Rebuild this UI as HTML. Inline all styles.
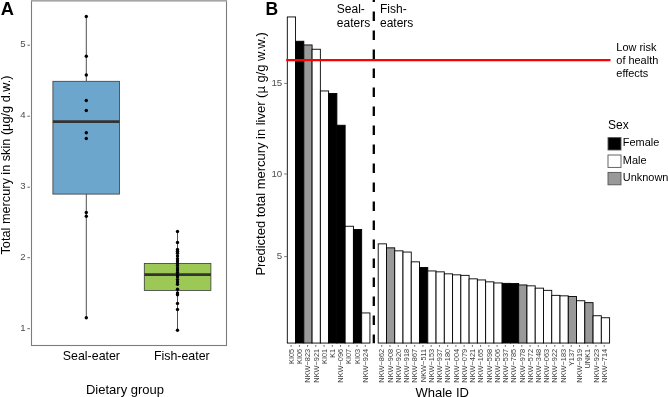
<!DOCTYPE html>
<html><head><meta charset="utf-8"><title>Mercury in killer whales</title>
<style>html,body{margin:0;padding:0;background:#fff;}body{width:668px;height:397px;overflow:hidden;}svg{display:block;font-family:"Liberation Sans",sans-serif;}</style>
</head><body>
<svg style="will-change:transform" width="668" height="397" viewBox="0 0 668 397">
<rect x="0" y="0" width="668" height="397" fill="#ffffff"/>
<g id="panelA">
<text x="0.7" y="14.6" font-size="18.3" font-weight="bold" fill="#000">A</text>
<rect x="31.5" y="0.6" width="195" height="344.9" fill="none" stroke="#7c7c7c" stroke-width="1.1"/>
<line x1="31" x2="227" y1="0.75" y2="0.75" stroke="#a6a6a6" stroke-width="1.5"/>
<line x1="27.4" x2="29.9" y1="45.2" y2="45.2" stroke="#555" stroke-width="0.9"/>
<text x="25.5" y="47.2" font-size="9.6" text-anchor="end" fill="#4d4d4d">5</text>
<line x1="27.4" x2="29.9" y1="116.2" y2="116.2" stroke="#555" stroke-width="0.9"/>
<text x="25.5" y="118.2" font-size="9.6" text-anchor="end" fill="#4d4d4d">4</text>
<line x1="27.4" x2="29.9" y1="187.2" y2="187.2" stroke="#555" stroke-width="0.9"/>
<text x="25.5" y="189.2" font-size="9.6" text-anchor="end" fill="#4d4d4d">3</text>
<line x1="27.4" x2="29.9" y1="257.7" y2="257.7" stroke="#555" stroke-width="0.9"/>
<text x="25.5" y="259.7" font-size="9.6" text-anchor="end" fill="#4d4d4d">2</text>
<line x1="27.4" x2="29.9" y1="328.7" y2="328.7" stroke="#555" stroke-width="0.9"/>
<text x="25.5" y="330.7" font-size="9.6" text-anchor="end" fill="#4d4d4d">1</text>
<text transform="translate(9.8,254.5) rotate(-90)" font-size="13" fill="#000" textLength="179" lengthAdjust="spacingAndGlyphs">Total mercury in skin (µg/g d.w.)</text>
<line x1="86.3" x2="86.3" y1="16.5" y2="81.3" stroke="#222" stroke-width="0.8"/>
<line x1="86.3" x2="86.3" y1="194" y2="317.8" stroke="#222" stroke-width="0.8"/>
<rect x="52.9" y="81.3" width="66.6" height="112.8" fill="#6ca6cd" stroke="#3a3a3a" stroke-width="0.8"/>
<line x1="52.9" x2="119.5" y1="121.6" y2="121.6" stroke="#333" stroke-width="2.7"/>
<circle cx="86.3" cy="16.5" r="1.7" fill="#000"/>
<circle cx="86.3" cy="56.3" r="1.7" fill="#000"/>
<circle cx="86.3" cy="75" r="1.7" fill="#000"/>
<circle cx="86.3" cy="100.5" r="1.7" fill="#000"/>
<circle cx="86.3" cy="110.5" r="1.7" fill="#000"/>
<circle cx="86.3" cy="132.8" r="1.7" fill="#000"/>
<circle cx="86.3" cy="138.5" r="1.7" fill="#000"/>
<circle cx="86.3" cy="212.5" r="1.7" fill="#000"/>
<circle cx="86.3" cy="216.3" r="1.7" fill="#000"/>
<circle cx="86.3" cy="317.8" r="1.7" fill="#000"/>
<line x1="177.5" x2="177.5" y1="231.5" y2="263.4" stroke="#222" stroke-width="0.8"/>
<line x1="177.5" x2="177.5" y1="290.4" y2="330.3" stroke="#222" stroke-width="0.8"/>
<rect x="144.3" y="263.4" width="66.6" height="27" fill="#9cc955" stroke="#3a3a3a" stroke-width="0.8"/>
<line x1="144.3" x2="210.9" y1="274.6" y2="274.6" stroke="#333" stroke-width="2.7"/>
<circle cx="177.5" cy="231.5" r="1.7" fill="#000"/>
<circle cx="177.5" cy="242.5" r="1.7" fill="#000"/>
<circle cx="177.5" cy="249.4" r="1.7" fill="#000"/>
<circle cx="177.5" cy="251.3" r="1.7" fill="#000"/>
<circle cx="177.5" cy="253.3" r="1.7" fill="#000"/>
<circle cx="177.5" cy="256" r="1.7" fill="#000"/>
<circle cx="177.5" cy="258.8" r="1.7" fill="#000"/>
<circle cx="177.5" cy="261" r="1.7" fill="#000"/>
<circle cx="177.5" cy="263.2" r="1.7" fill="#000"/>
<circle cx="177.5" cy="265.4" r="1.7" fill="#000"/>
<circle cx="177.5" cy="268" r="1.7" fill="#000"/>
<circle cx="177.5" cy="270" r="1.7" fill="#000"/>
<circle cx="177.5" cy="272.4" r="1.7" fill="#000"/>
<circle cx="177.5" cy="274.9" r="1.7" fill="#000"/>
<circle cx="177.5" cy="277" r="1.7" fill="#000"/>
<circle cx="177.5" cy="279.6" r="1.7" fill="#000"/>
<circle cx="177.5" cy="282" r="1.7" fill="#000"/>
<circle cx="177.5" cy="284.3" r="1.7" fill="#000"/>
<circle cx="177.5" cy="289.3" r="1.7" fill="#000"/>
<circle cx="177.5" cy="292.9" r="1.7" fill="#000"/>
<circle cx="177.5" cy="294.8" r="1.7" fill="#000"/>
<circle cx="177.5" cy="303.4" r="1.7" fill="#000"/>
<circle cx="177.5" cy="309.5" r="1.7" fill="#000"/>
<circle cx="177.5" cy="330.3" r="1.7" fill="#000"/>
<text x="91.4" y="359.8" font-size="12.4" text-anchor="middle" fill="#000">Seal-eater</text>
<text x="181.8" y="359.8" font-size="12.4" text-anchor="middle" fill="#000">Fish-eater</text>
<text x="125" y="394.2" font-size="13" text-anchor="middle" fill="#000">Dietary group</text>
</g>
<g id="panelB">
<text x="265.4" y="14.5" font-size="17.5" font-weight="bold" fill="#000">B</text>
<line x1="284.2" x2="286.8" y1="83.4" y2="83.4" stroke="#555" stroke-width="0.8"/>
<text x="282.2" y="86.2" font-size="9.7" text-anchor="end" fill="#4d4d4d">15</text>
<line x1="284.2" x2="286.8" y1="174" y2="174" stroke="#555" stroke-width="0.8"/>
<text x="282.2" y="176.8" font-size="9.7" text-anchor="end" fill="#4d4d4d">10</text>
<line x1="284.2" x2="286.8" y1="256.6" y2="256.6" stroke="#555" stroke-width="0.8"/>
<text x="282.2" y="259.4" font-size="9.7" text-anchor="end" fill="#4d4d4d">5</text>
<text transform="translate(265.2,275.6) rotate(-90)" font-size="13" fill="#000" textLength="243.4" lengthAdjust="spacingAndGlyphs">Predicted total mercury in liver (µ g/g w.w.)</text>
<rect x="287.30" y="16.95" width="8.26" height="326.10" fill="#ffffff" stroke="#000" stroke-width="0.9"/>
<rect x="295.56" y="41.25" width="8.26" height="301.80" fill="#000000" stroke="#000" stroke-width="0.9"/>
<rect x="303.83" y="44.95" width="8.26" height="298.10" fill="#999999" stroke="#000" stroke-width="0.9"/>
<rect x="312.09" y="49.25" width="8.26" height="293.80" fill="#ffffff" stroke="#000" stroke-width="0.9"/>
<rect x="320.36" y="90.95" width="8.26" height="252.10" fill="#ffffff" stroke="#000" stroke-width="0.9"/>
<rect x="328.62" y="93.45" width="8.26" height="249.60" fill="#000000" stroke="#000" stroke-width="0.9"/>
<rect x="336.88" y="125.25" width="8.26" height="217.80" fill="#000000" stroke="#000" stroke-width="0.9"/>
<rect x="345.15" y="226.25" width="8.26" height="116.80" fill="#ffffff" stroke="#000" stroke-width="0.9"/>
<rect x="353.41" y="229.45" width="8.26" height="113.60" fill="#000000" stroke="#000" stroke-width="0.9"/>
<rect x="361.68" y="312.95" width="8.26" height="30.10" fill="#ffffff" stroke="#000" stroke-width="0.9"/>
<rect x="378.20" y="243.85" width="8.26" height="99.20" fill="#ffffff" stroke="#000" stroke-width="0.9"/>
<rect x="386.47" y="247.85" width="8.26" height="95.20" fill="#999999" stroke="#000" stroke-width="0.9"/>
<rect x="394.73" y="250.85" width="8.26" height="92.20" fill="#ffffff" stroke="#000" stroke-width="0.9"/>
<rect x="403.00" y="252.05" width="8.26" height="91.00" fill="#ffffff" stroke="#000" stroke-width="0.9"/>
<rect x="411.26" y="261.85" width="8.26" height="81.20" fill="#ffffff" stroke="#000" stroke-width="0.9"/>
<rect x="419.52" y="267.45" width="8.26" height="75.60" fill="#000000" stroke="#000" stroke-width="0.9"/>
<rect x="427.79" y="270.95" width="8.26" height="72.10" fill="#ffffff" stroke="#000" stroke-width="0.9"/>
<rect x="436.05" y="271.85" width="8.26" height="71.20" fill="#ffffff" stroke="#000" stroke-width="0.9"/>
<rect x="444.32" y="273.85" width="8.26" height="69.20" fill="#ffffff" stroke="#000" stroke-width="0.9"/>
<rect x="452.58" y="274.85" width="8.26" height="68.20" fill="#ffffff" stroke="#000" stroke-width="0.9"/>
<rect x="460.84" y="275.35" width="8.26" height="67.70" fill="#ffffff" stroke="#000" stroke-width="0.9"/>
<rect x="469.11" y="278.85" width="8.26" height="64.20" fill="#ffffff" stroke="#000" stroke-width="0.9"/>
<rect x="477.37" y="279.95" width="8.26" height="63.10" fill="#ffffff" stroke="#000" stroke-width="0.9"/>
<rect x="485.64" y="281.85" width="8.26" height="61.20" fill="#ffffff" stroke="#000" stroke-width="0.9"/>
<rect x="493.90" y="282.95" width="8.26" height="60.10" fill="#ffffff" stroke="#000" stroke-width="0.9"/>
<rect x="502.16" y="283.35" width="8.26" height="59.70" fill="#000000" stroke="#000" stroke-width="0.9"/>
<rect x="510.43" y="283.55" width="8.26" height="59.50" fill="#000000" stroke="#000" stroke-width="0.9"/>
<rect x="518.69" y="284.95" width="8.26" height="58.10" fill="#999999" stroke="#000" stroke-width="0.9"/>
<rect x="526.96" y="285.85" width="8.26" height="57.20" fill="#ffffff" stroke="#000" stroke-width="0.9"/>
<rect x="535.22" y="288.15" width="8.26" height="54.90" fill="#ffffff" stroke="#000" stroke-width="0.9"/>
<rect x="543.48" y="290.35" width="8.26" height="52.70" fill="#ffffff" stroke="#000" stroke-width="0.9"/>
<rect x="551.75" y="295.35" width="8.26" height="47.70" fill="#ffffff" stroke="#000" stroke-width="0.9"/>
<rect x="560.01" y="295.85" width="8.26" height="47.20" fill="#ffffff" stroke="#000" stroke-width="0.9"/>
<rect x="568.28" y="296.45" width="8.26" height="46.60" fill="#999999" stroke="#000" stroke-width="0.9"/>
<rect x="576.54" y="300.75" width="8.26" height="42.30" fill="#ffffff" stroke="#000" stroke-width="0.9"/>
<rect x="584.80" y="302.65" width="8.26" height="40.40" fill="#999999" stroke="#000" stroke-width="0.9"/>
<rect x="593.07" y="315.75" width="8.26" height="27.30" fill="#ffffff" stroke="#000" stroke-width="0.9"/>
<rect x="601.33" y="317.75" width="8.26" height="25.30" fill="#ffffff" stroke="#000" stroke-width="0.9"/>
<line x1="291.10" x2="291.10" y1="345" y2="346.8" stroke="#444" stroke-width="0.8"/>
<text transform="translate(293.80,348.8) rotate(-90)" font-size="7.4" text-anchor="end" fill="#3c3c3c">KI05</text>
<line x1="299.34" x2="299.34" y1="345" y2="346.8" stroke="#444" stroke-width="0.8"/>
<text transform="translate(302.04,348.8) rotate(-90)" font-size="7.4" text-anchor="end" fill="#3c3c3c">KI06</text>
<line x1="307.58" x2="307.58" y1="345" y2="346.8" stroke="#444" stroke-width="0.8"/>
<text transform="translate(310.28,348.8) rotate(-90)" font-size="7.4" text-anchor="end" fill="#3c3c3c">NKW−823</text>
<line x1="315.82" x2="315.82" y1="345" y2="346.8" stroke="#444" stroke-width="0.8"/>
<text transform="translate(318.52,348.8) rotate(-90)" font-size="7.4" text-anchor="end" fill="#3c3c3c">NKW−921</text>
<line x1="324.06" x2="324.06" y1="345" y2="346.8" stroke="#444" stroke-width="0.8"/>
<text transform="translate(326.76,348.8) rotate(-90)" font-size="7.4" text-anchor="end" fill="#3c3c3c">KI01</text>
<line x1="332.30" x2="332.30" y1="345" y2="346.8" stroke="#444" stroke-width="0.8"/>
<text transform="translate(335.00,348.8) rotate(-90)" font-size="7.4" text-anchor="end" fill="#3c3c3c">K1</text>
<line x1="340.54" x2="340.54" y1="345" y2="346.8" stroke="#444" stroke-width="0.8"/>
<text transform="translate(343.24,348.8) rotate(-90)" font-size="7.4" text-anchor="end" fill="#3c3c3c">NKW−096</text>
<line x1="348.78" x2="348.78" y1="345" y2="346.8" stroke="#444" stroke-width="0.8"/>
<text transform="translate(351.48,348.8) rotate(-90)" font-size="7.4" text-anchor="end" fill="#3c3c3c">KI07</text>
<line x1="357.02" x2="357.02" y1="345" y2="346.8" stroke="#444" stroke-width="0.8"/>
<text transform="translate(359.72,348.8) rotate(-90)" font-size="7.4" text-anchor="end" fill="#3c3c3c">KI03</text>
<line x1="365.26" x2="365.26" y1="345" y2="346.8" stroke="#444" stroke-width="0.8"/>
<text transform="translate(367.96,348.8) rotate(-90)" font-size="7.4" text-anchor="end" fill="#3c3c3c">NKW−924</text>
<line x1="381.74" x2="381.74" y1="345" y2="346.8" stroke="#444" stroke-width="0.8"/>
<text transform="translate(384.44,348.8) rotate(-90)" font-size="7.4" text-anchor="end" fill="#3c3c3c">NKW−862</text>
<line x1="389.98" x2="389.98" y1="345" y2="346.8" stroke="#444" stroke-width="0.8"/>
<text transform="translate(392.68,348.8) rotate(-90)" font-size="7.4" text-anchor="end" fill="#3c3c3c">NKW−908</text>
<line x1="398.22" x2="398.22" y1="345" y2="346.8" stroke="#444" stroke-width="0.8"/>
<text transform="translate(400.92,348.8) rotate(-90)" font-size="7.4" text-anchor="end" fill="#3c3c3c">NKW−920</text>
<line x1="406.46" x2="406.46" y1="345" y2="346.8" stroke="#444" stroke-width="0.8"/>
<text transform="translate(409.16,348.8) rotate(-90)" font-size="7.4" text-anchor="end" fill="#3c3c3c">NKW−918</text>
<line x1="414.70" x2="414.70" y1="345" y2="346.8" stroke="#444" stroke-width="0.8"/>
<text transform="translate(417.40,348.8) rotate(-90)" font-size="7.4" text-anchor="end" fill="#3c3c3c">NKW−867</text>
<line x1="422.94" x2="422.94" y1="345" y2="346.8" stroke="#444" stroke-width="0.8"/>
<text transform="translate(425.64,348.8) rotate(-90)" font-size="7.4" text-anchor="end" fill="#3c3c3c">NKW−511</text>
<line x1="431.18" x2="431.18" y1="345" y2="346.8" stroke="#444" stroke-width="0.8"/>
<text transform="translate(433.88,348.8) rotate(-90)" font-size="7.4" text-anchor="end" fill="#3c3c3c">NKW−153</text>
<line x1="439.42" x2="439.42" y1="345" y2="346.8" stroke="#444" stroke-width="0.8"/>
<text transform="translate(442.12,348.8) rotate(-90)" font-size="7.4" text-anchor="end" fill="#3c3c3c">NKW−937</text>
<line x1="447.66" x2="447.66" y1="345" y2="346.8" stroke="#444" stroke-width="0.8"/>
<text transform="translate(450.36,348.8) rotate(-90)" font-size="7.4" text-anchor="end" fill="#3c3c3c">NKW−180</text>
<line x1="455.90" x2="455.90" y1="345" y2="346.8" stroke="#444" stroke-width="0.8"/>
<text transform="translate(458.60,348.8) rotate(-90)" font-size="7.4" text-anchor="end" fill="#3c3c3c">NKW−004</text>
<line x1="464.14" x2="464.14" y1="345" y2="346.8" stroke="#444" stroke-width="0.8"/>
<text transform="translate(466.84,348.8) rotate(-90)" font-size="7.4" text-anchor="end" fill="#3c3c3c">NKW−079</text>
<line x1="472.38" x2="472.38" y1="345" y2="346.8" stroke="#444" stroke-width="0.8"/>
<text transform="translate(475.08,348.8) rotate(-90)" font-size="7.4" text-anchor="end" fill="#3c3c3c">NKW−421</text>
<line x1="480.62" x2="480.62" y1="345" y2="346.8" stroke="#444" stroke-width="0.8"/>
<text transform="translate(483.32,348.8) rotate(-90)" font-size="7.4" text-anchor="end" fill="#3c3c3c">NKW−165</text>
<line x1="488.86" x2="488.86" y1="345" y2="346.8" stroke="#444" stroke-width="0.8"/>
<text transform="translate(491.56,348.8) rotate(-90)" font-size="7.4" text-anchor="end" fill="#3c3c3c">NKW−598</text>
<line x1="497.10" x2="497.10" y1="345" y2="346.8" stroke="#444" stroke-width="0.8"/>
<text transform="translate(499.80,348.8) rotate(-90)" font-size="7.4" text-anchor="end" fill="#3c3c3c">NKW−506</text>
<line x1="505.34" x2="505.34" y1="345" y2="346.8" stroke="#444" stroke-width="0.8"/>
<text transform="translate(508.04,348.8) rotate(-90)" font-size="7.4" text-anchor="end" fill="#3c3c3c">NKW−537</text>
<line x1="513.58" x2="513.58" y1="345" y2="346.8" stroke="#444" stroke-width="0.8"/>
<text transform="translate(516.28,348.8) rotate(-90)" font-size="7.4" text-anchor="end" fill="#3c3c3c">NKW−785</text>
<line x1="521.82" x2="521.82" y1="345" y2="346.8" stroke="#444" stroke-width="0.8"/>
<text transform="translate(524.52,348.8) rotate(-90)" font-size="7.4" text-anchor="end" fill="#3c3c3c">NKW−978</text>
<line x1="530.06" x2="530.06" y1="345" y2="346.8" stroke="#444" stroke-width="0.8"/>
<text transform="translate(532.76,348.8) rotate(-90)" font-size="7.4" text-anchor="end" fill="#3c3c3c">NKW−572</text>
<line x1="538.30" x2="538.30" y1="345" y2="346.8" stroke="#444" stroke-width="0.8"/>
<text transform="translate(541.00,348.8) rotate(-90)" font-size="7.4" text-anchor="end" fill="#3c3c3c">NKW−348</text>
<line x1="546.54" x2="546.54" y1="345" y2="346.8" stroke="#444" stroke-width="0.8"/>
<text transform="translate(549.24,348.8) rotate(-90)" font-size="7.4" text-anchor="end" fill="#3c3c3c">NKW−063</text>
<line x1="554.78" x2="554.78" y1="345" y2="346.8" stroke="#444" stroke-width="0.8"/>
<text transform="translate(557.48,348.8) rotate(-90)" font-size="7.4" text-anchor="end" fill="#3c3c3c">NKW−922</text>
<line x1="563.02" x2="563.02" y1="345" y2="346.8" stroke="#444" stroke-width="0.8"/>
<text transform="translate(565.72,348.8) rotate(-90)" font-size="7.4" text-anchor="end" fill="#3c3c3c">NKW−183</text>
<line x1="571.26" x2="571.26" y1="345" y2="346.8" stroke="#444" stroke-width="0.8"/>
<text transform="translate(573.96,348.8) rotate(-90)" font-size="7.4" text-anchor="end" fill="#3c3c3c">Y137</text>
<line x1="579.50" x2="579.50" y1="345" y2="346.8" stroke="#444" stroke-width="0.8"/>
<text transform="translate(582.20,348.8) rotate(-90)" font-size="7.4" text-anchor="end" fill="#3c3c3c">NKW−919</text>
<line x1="587.74" x2="587.74" y1="345" y2="346.8" stroke="#444" stroke-width="0.8"/>
<text transform="translate(590.44,348.8) rotate(-90)" font-size="7.4" text-anchor="end" fill="#3c3c3c">UNK1</text>
<line x1="595.98" x2="595.98" y1="345" y2="346.8" stroke="#444" stroke-width="0.8"/>
<text transform="translate(598.68,348.8) rotate(-90)" font-size="7.4" text-anchor="end" fill="#3c3c3c">NKW−923</text>
<line x1="604.22" x2="604.22" y1="345" y2="346.8" stroke="#444" stroke-width="0.8"/>
<text transform="translate(606.92,348.8) rotate(-90)" font-size="7.4" text-anchor="end" fill="#3c3c3c">NKW−714</text>
<line x1="373.8" x2="373.8" y1="0" y2="343.2" stroke="#000" stroke-width="2.3" stroke-dasharray="9.5 9.5" stroke-dashoffset="7.6"/>
<line x1="286.2" x2="610.5" y1="60.15" y2="60.15" stroke="#ff0000" stroke-width="2.4"/>
<text x="336.8" y="13.1" font-size="12" fill="#000">Seal-</text>
<text x="336.8" y="26.8" font-size="12" fill="#000">eaters</text>
<text x="380" y="13.1" font-size="12" fill="#000">Fish-</text>
<text x="380" y="26.8" font-size="12" fill="#000">eaters</text>
<text x="616.3" y="50.6" font-size="10.95" fill="#000">Low risk</text>
<text x="616.3" y="64.1" font-size="10.95" fill="#000">of health</text>
<text x="616.3" y="77.2" font-size="10.95" fill="#000">effects</text>
<text x="608" y="128.8" font-size="12" fill="#000">Sex</text>
<rect x="608" y="137.6" width="13" height="12.4" fill="#000000" stroke="#555" stroke-width="0.9"/>
<text x="622.8" y="146.2" font-size="10.95" fill="#000">Female</text>
<rect x="608" y="155.0" width="13" height="12.4" fill="#ffffff" stroke="#555" stroke-width="0.9"/>
<text x="622.8" y="163.6" font-size="10.95" fill="#000">Male</text>
<rect x="608" y="172.4" width="13" height="12.4" fill="#999999" stroke="#555" stroke-width="0.9"/>
<text x="622.8" y="181.0" font-size="10.95" fill="#000">Unknown</text>
<text x="442.2" y="396.6" font-size="13" text-anchor="middle" fill="#000">Whale ID</text>
</g>
</svg></body></html>
